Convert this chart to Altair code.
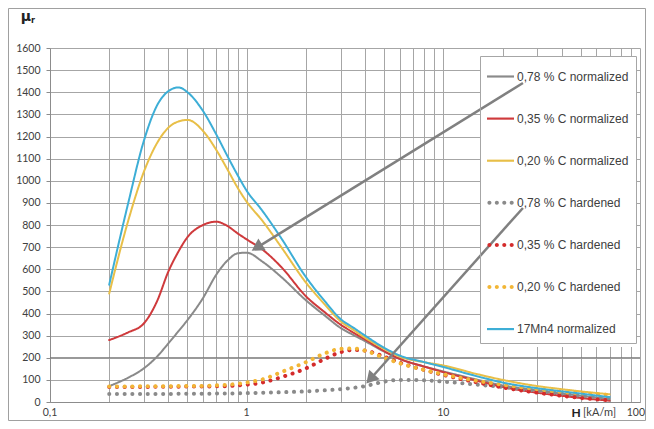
import altair as alt
import pandas as pd

# ---- data ----
H = [0.2, 0.25, 0.3, 0.35, 0.4, 0.45, 0.5, 0.6, 0.7, 0.8, 0.9, 1.0, 1.2, 1.5, 2, 2.5, 3, 3.5,
     4, 5, 6, 8, 10, 15, 20, 30, 40, 50, 70]

c078_norm = [72, 110, 152, 205, 265, 320, 370, 470, 575, 640, 672, 675, 635, 565, 460, 390, 335, 302,
             275, 228, 195, 160, 138, 100, 75, 52, 38, 28, 14]
c035_norm = [280, 315, 355, 455, 590, 680, 745, 800, 815, 795, 762, 735, 690, 610, 478, 405, 350, 313,
             283, 230, 195, 160, 135, 95, 68, 42, 28, 18, 6]
c020_norm = [490, 820, 1040, 1170, 1240, 1268, 1275, 1225, 1140, 1050, 968, 905, 820, 700, 540, 440, 365, 325,
             290, 240, 205, 180, 165, 125, 100, 72, 58, 48, 35]
c078_hard = [36, 36, 36, 36, 36, 37, 37, 37, 38, 38, 39, 40, 42, 44, 48, 53, 58, 64,
             72, 92, 100, 98, 92, 78, 68, 50, 38, 28, 16]
c035_hard = [68, 68, 68, 69, 69, 69, 70, 70, 71, 72, 75, 78, 88, 112, 152, 195, 225, 235,
             232, 205, 178, 145, 122, 88, 66, 42, 28, 18, 8]
c020_hard = [70, 70, 71, 71, 71, 72, 72, 73, 75, 78, 82, 88, 102, 135, 180, 220, 240, 242,
             232, 200, 175, 145, 125, 95, 78, 58, 45, 40, 32]
mn4_norm = [530, 900, 1180, 1340, 1405, 1422, 1400, 1315, 1210, 1110, 1025, 955, 865, 740, 565, 455, 375, 335,
            300, 245, 210, 180, 158, 115, 88, 62, 48, 38, 22]

series = ["0,78 % C normalized", "0,35 % C normalized", "0,20 % C normalized",
          "0,78 % C hardened", "0,35 % C hardened", "0,20 % C hardened", "17Mn4 normalized"]
values = [c078_norm, c035_norm, c020_norm, c078_hard, c035_hard, c020_hard, mn4_norm]
colors = ["#8a8a8a", "#cf3a3c", "#e8bf48", "#8a8a8a", "#d42b2b", "#f2b636", "#3daed6"]
dashes = [[1, 0], [1, 0], [1, 0], [0.1, 7.6], [0.1, 7.6], [0.1, 7.6], [1, 0]]
widths = [2, 2, 2, 4, 4, 4, 2]

x_ticks = [0.1, 0.2, 0.3, 0.4, 0.5, 0.6, 0.7, 0.8, 0.9, 1, 2, 3, 4, 5, 6, 7, 8, 9,
           10, 20, 30, 40, 50, 60, 70, 80, 90, 100]
x_label_vals = [0.1, 1, 10]
x_label_text = ["0,1", "1", "10"]
x_last_val = [100]
x_last_text = ["100"]
y_ticks = list(range(0, 1700, 100))

# arrows (annotation): start -> tip in data units
arrow_x = [25.4, 25.4]
arrow_y = [1442, 877]
arrow_x2 = [1.127, 4.256]
arrow_y2 = [698, 104]
arrow_angle = [238.4, 221.8]

rows = []
for name, vals in zip(series, values):
    for h, v in zip(H, vals):
        rows.append({"H": h, "mu": v, "series": name})
df = pd.DataFrame(rows)

arrows = pd.DataFrame({"x": arrow_x, "y": arrow_y, "x2": arrow_x2, "y2": arrow_y2, "ang": arrow_angle})
xlabels = pd.DataFrame({"v": x_label_vals, "t": x_label_text})
xlast = pd.DataFrame({"v": x_last_val, "t": x_last_text})

# legend symbols: a short solid bar or a row of four dots (unit coordinates)
solid_path = "M-1,-0.08L1,-0.08L1,0.08L-1,0.08Z"
dot_r = 0.15
dotted_path = "".join(
    f"M{cx - dot_r:.3f},0A{dot_r},{dot_r} 0 1,0 {cx + dot_r:.3f},0A{dot_r},{dot_r} 0 1,0 {cx - dot_r:.3f},0Z"
    for cx in [-0.82, -0.27, 0.28, 0.83])
symbol_paths = [solid_path, solid_path, solid_path, dotted_path, dotted_path, dotted_path, solid_path]

xscale = alt.Scale(type="log", domain=[0.1, 100], nice=False)
yscale = alt.Scale(domain=[0, 1600], nice=False)

x_axis = alt.Axis(values=x_ticks, labels=False, grid=True, ticks=False)
y_axis = alt.Axis(values=y_ticks, grid=True, tickSize=4, labelPadding=6, format="d")

legend = alt.Legend(orient="none", legendX=430, legendY=8, title=None, strokeColor="#a6a6a6",
                    padding=7, rowPadding=22.1, symbolSize=729, symbolStrokeWidth=0,
                    labelFontSize=12, labelFont="Liberation Sans", labelColor="#404040",
                    labelOffset=3, labelLimit=300)

one = pd.DataFrame({"a": [0]})

grid200 = alt.Chart(pd.DataFrame({"y": [200]})).mark_rule(color="#777777", strokeWidth=1).encode(
    y=alt.Y("y:Q", scale=yscale, title=None, axis=y_axis))

legend_bg = alt.Chart(one).mark_rect(fill="white").encode(
    x=alt.value(430), x2=alt.value(586), y=alt.value(8), y2=alt.value(299))

lines = alt.Chart(df).mark_line(interpolate="monotone", strokeCap="round").encode(
    x=alt.X("H:Q", scale=xscale, title=None, axis=x_axis),
    y=alt.Y("mu:Q", scale=yscale, title=None, axis=y_axis),
    color=alt.Color("series:N", scale=alt.Scale(domain=series, range=colors), legend=None, sort=series),
    strokeDash=alt.StrokeDash("series:N", scale=alt.Scale(domain=series, range=dashes), legend=None,
                              sort=series),
    strokeWidth=alt.StrokeWidth("series:N", scale=alt.Scale(type="ordinal", domain=series, range=widths),
                                legend=None, sort=series),
)

legend_layer = alt.Chart(df).transform_filter("datum.mu < 0").mark_point(
    filled=True, size=729, opacity=1).encode(
    x=alt.X("H:Q", scale=xscale, title=None, axis=x_axis),
    y=alt.Y("mu:Q", scale=yscale, title=None, axis=y_axis),
    color=alt.Color("series:N", scale=alt.Scale(domain=series, range=colors), legend=legend, sort=series),
    shape=alt.Shape("series:N", scale=alt.Scale(domain=series, range=symbol_paths), legend=legend,
                    sort=series),
)

arrow_lines = alt.Chart(arrows).mark_rule(color="#808080", strokeWidth=2.5).encode(
    x=alt.X("x:Q", scale=xscale, title=None, axis=x_axis),
    y=alt.Y("y:Q", scale=yscale, title=None, axis=y_axis),
    x2="x2:Q", y2="y2:Q")

arrow_heads = alt.Chart(arrows).mark_point(shape="triangle-up", filled=True, size=196,
                                           color="#808080", opacity=1).encode(
    x=alt.X("x2:Q", scale=xscale, title=None, axis=x_axis),
    y=alt.Y("y2:Q", scale=yscale, title=None, axis=y_axis),
    angle=alt.Angle("ang:Q", scale=None))

x_tick_labels = alt.Chart(xlabels).mark_text(font="Lato", fontSize=10.5, color="#404040",
                                              align="center", baseline="middle").encode(
    x=alt.X("v:Q", scale=xscale, title=None, axis=x_axis),
    y=alt.value(365),
    text="t:N")
x_last_label = alt.Chart(xlast).mark_text(font="Lato", fontSize=10.5, color="#404040",
                                           align="right", baseline="middle", dx=5).encode(
    x=alt.X("v:Q", scale=xscale, title=None, axis=x_axis),
    y=alt.value(365),
    text="t:N")

mu = alt.Chart(one).mark_text(text="μ", font="DejaVu Sans", fontWeight="bold", fontSize=14,
                              color="#222222", align="center", baseline="middle").encode(
    x=alt.value(-24), y=alt.value(-31))
mu_r = alt.Chart(one).mark_text(text="r", font="DejaVu Sans", fontWeight="bold", fontSize=8,
                                color="#222222", align="left", baseline="middle").encode(
    x=alt.value(-19), y=alt.value(-27))
h_lab = alt.Chart(one).mark_text(text="H", font="Lato", fontWeight="bold", fontSize=12,
                                 color="#222222", align="center", baseline="middle").encode(
    x=alt.value(526), y=alt.value(365))
h_unit = alt.Chart(one).mark_text(text="[kA/m]", font="Lato", fontSize=11,
                                  color="#404040", align="left", baseline="middle").encode(
    x=alt.value(533), y=alt.value(365))

border = alt.Chart(one).mark_rect(fill="transparent", stroke="#a0a0a0", strokeWidth=1).encode(
    x=alt.value(-41.5), x2=alt.value(595.5), y=alt.value(-39.5), y2=alt.value(372.5))

chart = alt.layer(grid200, legend_bg, lines, legend_layer, arrow_lines, arrow_heads,
                  x_tick_labels, x_last_label, mu, mu_r, h_lab, h_unit, border).resolve_legend(
    color="independent", shape="independent", strokeDash="independent", strokeWidth="independent"
).properties(
    width=590, height=354,
    autosize=alt.AutoSizeParams(type="none"),
    padding={"left": 42, "top": 40, "right": 6, "bottom": 19},
).configure_axis(
    labelFont="Lato", labelFontSize=10.5, labelColor="#404040",
    domainColor="#8c8c8c", gridColor="#a6a6a6", tickColor="#8c8c8c", gridWidth=1,
).configure_view(strokeWidth=0)

chart.save("out.html", embed_options={"renderer": "svg", "actions": False})
